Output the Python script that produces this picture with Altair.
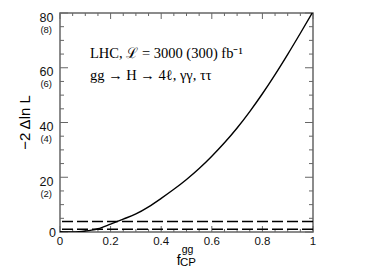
import altair as alt
import pandas as pd

# ---- data ----
f_cp = [0.0, 0.025, 0.05, 0.075, 0.1, 0.125, 0.15, 0.2, 0.25, 0.3, 0.35, 0.4,
        0.45, 0.5, 0.55, 0.6, 0.65, 0.7, 0.75, 0.8, 0.85, 0.9, 0.95, 1.0]
nll = [0.15, 0.03, 0.0, 0.1, 0.35, 0.7, 1.2, 2.9, 4.7, 6.6, 9.2, 12.3,
       15.6, 19.2, 23.2, 27.7, 32.6, 38.0, 44.0, 50.5, 57.5, 64.9, 72.6, 80.5]

dashed_levels = [1.0, 3.84]

y_major = [0, 20, 40, 60, 80]
y_minor = [v for v in range(0, 81, 5) if v % 20 != 0]
x_major = [0.0, 0.2, 0.4, 0.6, 0.8, 1.0]
x_minor = [round(i * 0.05, 2) for i in range(21) if i % 4 != 0]

y_label_vals = [20, 40, 60, 80]
y_label_txt = ["20", "40", "60", "80"]
y_paren_txt = ["(2)", "(4)", "(6)", "(8)"]
x_label_txt = ["0", "0.2", "0.4", "0.6", "0.8", "1"]

line1 = "LHC, \u2112 = 3000 (300) fb\u207b\u00b9"
line2 = "gg \u2192 H \u2192 4\u2113, \u03b3\u03b3, \u03c4\u03c4"
y_title = "\u22122 \u0394ln L"

W, H = 253, 219

xs = alt.Scale(domain=[0, 1], nice=False, zero=False)
ys = alt.Scale(domain=[0, 80], nice=False, zero=False)

curve_df = pd.DataFrame({"f": f_cp, "v": nll})

curve = alt.Chart(curve_df).mark_line(
    color="black", strokeWidth=1.4, interpolate="monotone", clip=True
).encode(x=alt.X("f:Q", scale=xs, axis=None), y=alt.Y("v:Q", scale=ys, axis=None))

dash_df = pd.DataFrame({"v": dashed_levels})
dashes = alt.Chart(dash_df).mark_rule(
    color="black", strokeWidth=1.3, strokeDash=[11, 4]
).encode(y=alt.Y("v:Q", scale=ys, axis=None))


def yticks(vals, length, side):
    df = pd.DataFrame({"v": vals})
    if side == "left":
        xe = dict(x=alt.value(0), x2=alt.value(length))
    else:
        xe = dict(x=alt.value(W), x2=alt.value(W - length))
    return alt.Chart(df).mark_rule(color="#666", strokeWidth=1).encode(
        y=alt.Y("v:Q", scale=ys, axis=None), **xe)


def xticks(vals, length, side):
    df = pd.DataFrame({"f": vals})
    if side == "top":
        ye = dict(y=alt.value(0), y2=alt.value(length))
    else:
        ye = dict(y=alt.value(H), y2=alt.value(H - length))
    return alt.Chart(df).mark_rule(color="#666", strokeWidth=1).encode(
        x=alt.X("f:Q", scale=xs, axis=None), **ye)


ticks = [
    yticks(y_major, 8, "left"), yticks(y_minor, 4, "left"),
    yticks(y_major, 8, "right"), yticks(y_minor, 4, "right"),
    xticks(x_major, 6, "top"), xticks(x_minor, 3, "top"),
    xticks(x_major, 6, "bottom"), xticks(x_minor, 3, "bottom"),
]

LBL = "Liberation Sans"
ylab_df = pd.DataFrame({"v": y_label_vals, "t": y_label_txt, "p": y_paren_txt})
ylab = alt.Chart(ylab_df).mark_text(
    align="right", baseline="middle", dy=4.5, fontSize=12.5, font=LBL, color="#111"
).encode(y=alt.Y("v:Q", scale=ys, axis=None), x=alt.value(-6.5), text="t:N")
yparen = alt.Chart(ylab_df).mark_text(
    align="right", baseline="middle", dy=16.5, fontSize=9.5, font=LBL, color="#111"
).encode(y=alt.Y("v:Q", scale=ys, axis=None), x=alt.value(-8), text="p:N")
yzero = alt.Chart(pd.DataFrame({"v": [0], "t": ["0"]})).mark_text(
    align="right", baseline="middle", dy=1, fontSize=12.5, font=LBL, color="#111"
).encode(y=alt.Y("v:Q", scale=ys, axis=None), x=alt.value(-4), text="t:N")

xlab_df = pd.DataFrame({"f": x_major, "t": x_label_txt})
xlab = alt.Chart(xlab_df).mark_text(
    align="center", baseline="top", fontSize=11.5, font=LBL, color="#111"
).encode(x=alt.X("f:Q", scale=xs, axis=None), y=alt.value(H + 4), text="t:N")


def txt(s, x, y, size, font="Liberation Serif", align="left", baseline="alphabetic", angle=0):
    kw = dict(align=align, baseline=baseline, fontSize=size, font=font, color="black")
    if angle:
        kw["angle"] = angle
    return alt.Chart(pd.DataFrame({"t": [s]})).mark_text(**kw).encode(
        x=alt.value(x), y=alt.value(y), text="t:N")


ann1 = txt(line1, 30, 44.5, 14.5)
ann2 = txt(line2, 30, 67, 14.5)
ytit = txt(y_title, -35, H / 2, 15, font=LBL, align="center",
           baseline="middle", angle=270)
xf = txt("f", 116.7, 252, 14, font=LBL)
xsup = txt("gg", 121.7, 240, 10.5, font=LBL)
xsub = txt("CP", 120, 252.5, 11.5, font=LBL)

chart = alt.layer(
    *ticks, dashes, curve, ylab, yparen, yzero, xlab, ann1, ann2, ytit, xf, xsup, xsub
).properties(
    width=W, height=H,
    padding={"left": 52, "top": 5, "right": 50, "bottom": 36},
    autosize=alt.AutoSizeParams(type="none"),
).configure_view(stroke="#666", strokeWidth=1.5)

chart.save("out.html", embed_options={"renderer": "svg", "actions": False})
